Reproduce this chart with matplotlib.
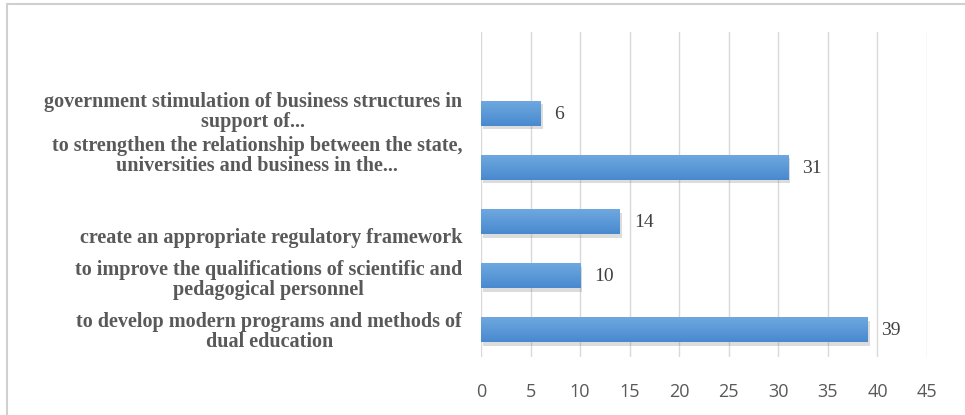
import matplotlib
matplotlib.use("Agg")
import matplotlib.pyplot as plt
import matplotlib.patheffects as pe
from matplotlib.lines import Line2D
from matplotlib.transforms import ScaledTranslation
from matplotlib.colors import LinearSegmentedColormap
import numpy as np

# Survey answers, listed from the bottom bar to the top bar
categories = [
    "to develop modern programs and methods of\ndual education",
    "to improve the qualifications of scientific and\npedagogical personnel",
    "create an appropriate regulatory framework",
    "to strengthen the relationship between the state,\nuniversities and business in the...",
    "government stimulation of business structures in\nsupport of...",
]
values = [39, 10, 14, 31, 6]
x_ticks = [0, 5, 10, 15, 20, 25, 30, 35, 40, 45]

# vertical nudges (pixels, up positive) for the category text blocks
label_nudge_px = [-2, -4, -16, 11, 1]

DPI = 100
fig = plt.figure(figsize=(9.65, 4.15), dpi=DPI)
fig.patch.set_facecolor("white")

ax = fig.add_axes([481 / 965, 1 - 357 / 415, (927 - 481) / 965, (357 - 32) / 415])

# vertical gridlines
ax.set_xticks(x_ticks)
ax.xaxis.grid(True, color="#d9d9d9", linewidth=1.0)
ax.set_axisbelow(True)
ax.set_yticks([])
for s in ax.spines.values():
    s.set_visible(False)
ax.tick_params(axis="x", length=0, pad=19, labelsize=13, labelcolor="#595959")
for t in ax.get_xticklabels():
    t.set_fontfamily("Open Sans")

ypos = np.arange(len(values))
bars = ax.barh(ypos, values, height=0.46, color="#5b9bd5", zorder=3,
               path_effects=[pe.SimplePatchShadow(offset=(1.5, -2.5), shadow_rgbFace="#8c8c8c", alpha=0.3),
                             pe.Normal()])

# vertical light-to-dark shading on each bar
grad = np.linspace(0, 1, 64).reshape(-1, 1)
cmap = LinearSegmentedColormap.from_list("barshade", ["#6ea8df", "#4889cf"])
for b in bars:
    x0, y0 = b.get_x(), b.get_y()
    w, h = b.get_width(), b.get_height()
    im = ax.imshow(grad, cmap=cmap, aspect="auto", origin="upper",
                   extent=(x0, x0 + w, y0, y0 + h), zorder=4)
    im.set_clip_path(b)
ax.set_xlim(0, 45)
ax.set_ylim(-0.5, len(values) + 0.5)

# value labels to the right of each bar
for y, v in zip(ypos, values):
    ax.annotate(str(v), xy=(v, y), xytext=(14, -1), textcoords="offset pixels",
                ha="left", va="center", fontsize=14, color="#404040",
                family="Liberation Serif", zorder=5)

# category labels, right-aligned against the plot
base = ax.get_yaxis_transform()
for y, lab, dy in zip(ypos, categories, label_nudge_px):
    tr = base + ScaledTranslation(-19 / DPI, dy / DPI, fig.dpi_scale_trans)
    ax.text(0, y, lab, transform=tr, ha="right", va="center", multialignment="center",
            fontsize=14.5, fontweight="bold", family="Liberation Serif",
            color="#595959", linespacing=1.0)

# chart frame
frame_kw = dict(color="#d0d0d0", linewidth=1.5, transform=fig.transFigure)
fig.add_artist(Line2D([7 / 965, 1], [1 - 4 / 415, 1 - 4 / 415], **frame_kw))
fig.add_artist(Line2D([7 / 965, 7 / 965], [0, 1 - 4 / 415], **frame_kw))

fig.savefig("out.png", dpi=DPI, facecolor="white")
